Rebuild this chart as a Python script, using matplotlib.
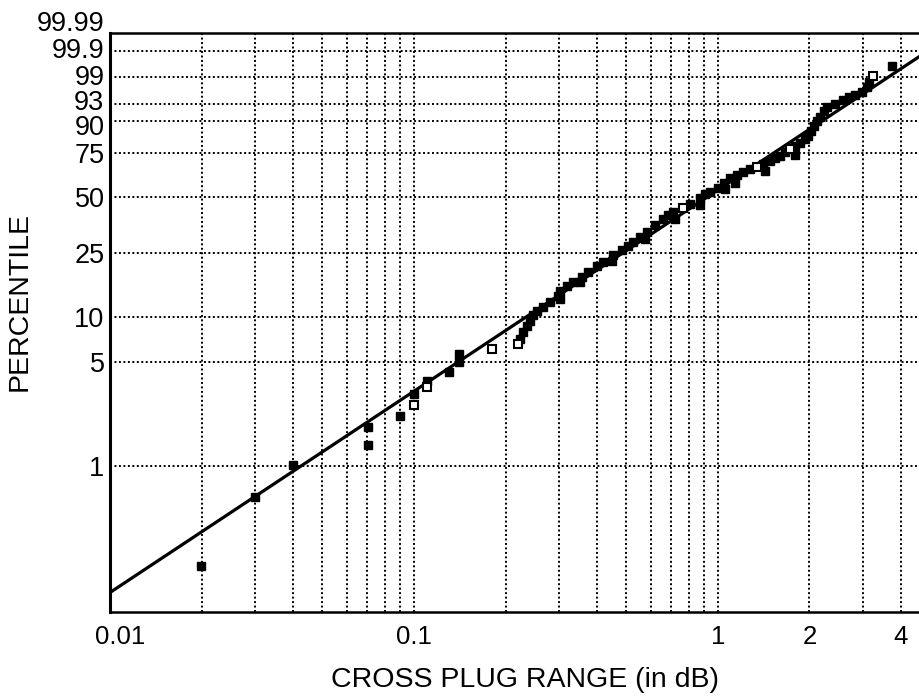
import numpy as np
import matplotlib.pyplot as plt
from matplotlib.ticker import FixedLocator, NullFormatter
import matplotlib.transforms as mtransforms

plt.rcParams['font.family'] = ['Liberation Sans', 'DejaVu Sans']

# filled squares: cross plug range (dB) vs percentile
range_db = [0.0199, 0.0300, 0.0400, 0.0706, 0.0706, 0.0899, 0.100, 0.1104,
            0.1303, 0.1406, 0.1406, 0.2232, 0.2284, 0.2353, 0.2407, 0.2462,
            0.2538, 0.2656, 0.2801, 0.2977, 0.3022, 0.3186, 0.3334, 0.3569,
            0.3736, 0.3999, 0.4184, 0.4514, 0.4832, 0.5056, 0.5252, 0.5538,
            0.5839, 0.6205, 0.6594, 0.6848, 0.7112, 0.8090, 0.8727, 0.9062,
            0.9412, 1.000, 1.0464, 1.095, 1.155, 1.208, 1.274, 1.406,
            1.483, 1.540, 1.599, 1.661, 1.792, 1.861, 1.933, 1.977,
            2.022, 2.069, 2.117, 2.165, 2.232, 2.284, 2.426, 2.578,
            2.697, 2.823, 2.977, 3.091, 3.139, 3.737, 0.4479, 0.5752,
            0.7221, 0.8727, 1.137, 1.428, 1.792, 0.3022, 0.3516, 1.054]
percentile = [0.208, 0.615, 1.016, 1.841, 1.389, 2.185, 3.076, 3.760,
              4.320, 5.039, 5.696, 7.158, 7.956, 8.713, 9.390, 10.27,
              10.90, 11.57, 12.45, 13.60, 14.63, 15.73, 16.66, 17.90,
              19.21, 20.90, 22.10, 24.33, 26.04, 27.48, 28.98, 30.94,
              33.01, 36.06, 38.83, 40.75, 42.24, 46.34, 49.55, 51.75,
              52.86, 55.10, 57.96, 60.84, 62.57, 64.31, 66.05, 68.92,
              70.63, 72.32, 73.43, 75.63, 78.81, 80.35, 82.32, 83.74,
              85.99, 88.07, 89.98, 91.37, 93.23, 94.32, 95.05, 95.93,
              96.52, 96.87, 97.35, 98.04, 98.57, 99.58, 22.41, 30.14,
              38.83, 45.81, 57.96, 64.89, 73.99, 13.01, 16.66, 54.54]

# open squares
open_db = [0.100, 0.1104, 0.1805, 0.2198, 0.7671, 1.344, 1.725, 3.235]
open_pct = [2.593, 3.428, 6.149, 6.633, 44.26, 67.20, 77.24, 99.07]

# fitted straight line (end points)
fit_db = [0.01, 5.0]
fit_pct = [0.136, 99.92]

pct_ticks = [1, 5, 10, 25, 50, 75, 90, 95, 99, 99.9, 99.99]
pct_labels = ['1', '5', '10', '25', '50', '75', '90', '93', '99', '99.9', '99.99']
x_major = [0.01, 0.1, 1, 2, 4]
x_labels = ['0.01', '0.1', '1', '2', '4']
x_minor = [0.02, 0.03, 0.04, 0.05, 0.06, 0.07, 0.08, 0.09,
           0.2, 0.3, 0.4, 0.5, 0.6, 0.7, 0.8, 0.9, 3]


def weibull_fwd(p):
    p = np.clip(np.asarray(p, dtype=float), 1e-7, 100 - 1e-9) / 100.0
    return np.log(-np.log(1.0 - p))


def weibull_inv(w):
    return 100.0 * (1.0 - np.exp(-np.exp(w)))


fig = plt.figure(figsize=(9.2, 7), dpi=100)
ax = fig.add_axes([0.1196, 0.1257, 0.8804, 0.8272])
ax.set_xscale('log')
ax.set_yscale('function', functions=(weibull_fwd, weibull_inv))
ax.set_xlim(0.01, 4.62)
ax.set_ylim(0.1, 99.99)

ax.plot(fit_db, fit_pct, color='black', lw=2.3, zorder=3)
ax.plot(range_db, percentile, 's', ms=6.3, mfc='black', mec='black',
        mew=1.0, zorder=4)
ax.plot(open_db, open_pct, 's', ms=6.0, mfc='white', mec='black',
        mew=1.5, zorder=5)

ax.xaxis.set_major_locator(FixedLocator(x_major))
ax.set_xticklabels(x_labels)
ax.xaxis.set_minor_locator(FixedLocator(x_minor))
ax.xaxis.set_minor_formatter(NullFormatter())
ax.yaxis.set_major_locator(FixedLocator(pct_ticks))
ax.set_yticklabels(pct_labels)
ax.yaxis.set_minor_locator(FixedLocator([]))

dots = (0, (1.0, 1.3))
ax.grid(True, axis='x', which='both', color='black', lw=1.4, linestyle=dots)
ax.grid(True, axis='y', which='major', color='black', lw=1.4, linestyle=dots)
ax.set_axisbelow(True)

ax.tick_params(axis='both', which='both', length=0)
ax.tick_params(axis='x', labelsize=18.5, pad=9)
ax.tick_params(axis='y', labelsize=19.5, pad=4)

ax.spines['right'].set_visible(False)
ax.spines['left'].set_linewidth(2.2)
ax.spines['bottom'].set_linewidth(1.8)
ax.spines['top'].set_linewidth(1.8)


def nudge(label, dx, dy):
    # shift in pixels, as the labels sit in the original print
    label.set_transform(label.get_transform() +
                        mtransforms.ScaledTranslation(dx / 100, dy / 100,
                                                      fig.dpi_scale_trans))


ylabs = ax.get_yticklabels()
nudge(ylabs[6], 0, -4)    # 90
nudge(ylabs[7], 0, 4)     # 93
nudge(ylabs[8], 0, 2)     # 99
nudge(ylabs[9], 0, 3)     # 99.9
nudge(ylabs[10], 0, 12)   # 99.99
nudge(ax.get_xticklabels()[0], 10, 0)

ax.set_xlabel('CROSS PLUG RANGE (in dB)', fontsize=20.5)
ax.set_ylabel('PERCENTILE', fontsize=20.5)
ax.xaxis.set_label_coords(0.512, -0.095)
ax.yaxis.set_label_coords(-0.095, 0.537)

fig.savefig('out.png', dpi=100)
